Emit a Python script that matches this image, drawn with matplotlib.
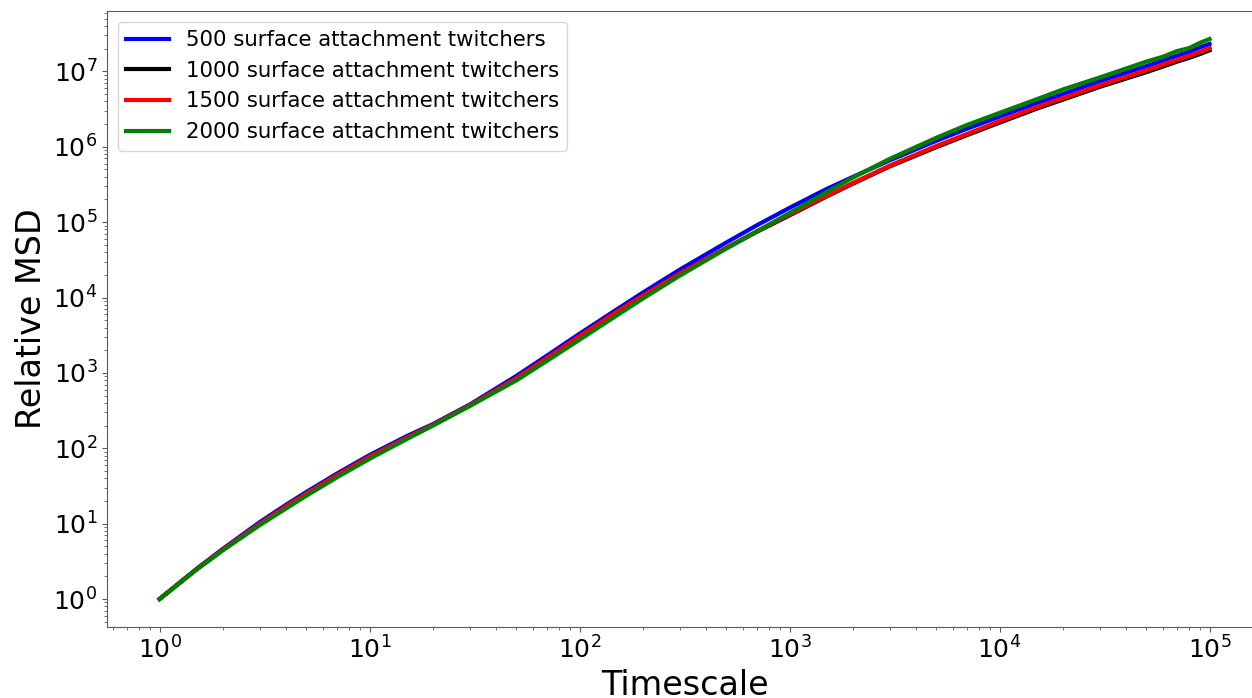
import numpy as np
import matplotlib
matplotlib.use('Agg')
import matplotlib.pyplot as plt

######Data (MSD stored as log10 values)
timescale = [1, 1.5, 2, 3, 4, 5, 7, 10, 15, 20, 30, 50, 70, 100, 150, 200, 300,
             500, 700, 1000, 1500, 2000, 3000, 5000, 7000, 10000, 15000, 20000,
             30000, 50000, 60000, 70000, 80000, 90000, 100000]

log_msd_500 = [0.0, 0.40, 0.665, 1.02, 1.25, 1.42, 1.665, 1.91, 2.16, 2.32, 2.58,
               2.96, 3.23, 3.52, 3.84, 4.065, 4.37, 4.73, 4.96, 5.19, 5.44, 5.60,
               5.82, 6.08, 6.24, 6.40, 6.58, 6.70, 6.87, 7.07, 7.145, 7.21, 7.26,
               7.32, 7.365]
log_msd_1000 = [0.0, 0.393, 0.652, 0.997, 1.227, 1.397, 1.642, 1.887, 2.137,
                2.307, 2.567, 2.927, 3.197, 3.487, 3.807, 4.022, 4.317, 4.655,
                4.873, 5.09, 5.34, 5.51, 5.74, 5.995, 6.155, 6.32, 6.505, 6.625,
                6.795, 6.99, 7.065, 7.13, 7.18, 7.23, 7.28]
log_msd_1500 = [0.0, 0.395, 0.655, 1.00, 1.23, 1.40, 1.645, 1.89, 2.14, 2.31,
                2.57, 2.93, 3.20, 3.49, 3.81, 4.025, 4.32, 4.66, 4.88, 5.10, 5.35,
                5.52, 5.75, 6.01, 6.17, 6.34, 6.525, 6.645, 6.815, 7.015, 7.09,
                7.155, 7.205, 7.26, 7.31]
log_msd_2000 = [0.0, 0.39, 0.645, 0.98, 1.20, 1.37, 1.615, 1.86, 2.12, 2.30, 2.56,
                2.90, 3.16, 3.44, 3.76, 3.985, 4.29, 4.65, 4.88, 5.12, 5.40, 5.59,
                5.84, 6.12, 6.29, 6.45, 6.63, 6.76, 6.92, 7.13, 7.195, 7.27, 7.31,
                7.38, 7.43]

labels = ['500 surface attachment twitchers', '1000 surface attachment twitchers',
          '1500 surface attachment twitchers', '2000 surface attachment twitchers']
colors = ['blue', 'black', 'red', 'green']

######Plot
fig = plt.figure(figsize=(12.52, 6.98), dpi=100)
# axes runs a little past the right edge, like the cropped original
ax = fig.add_axes([0.0855, 0.1017, 0.9225, 0.8825])

series = [log_msd_500, log_msd_1000, log_msd_1500, log_msd_2000]
for vals, lab, col in zip(series, labels, colors):
    ax.plot(timescale, np.power(10.0, vals), color=col, lw=3, label=lab)

ax.set_xscale('log')
ax.set_yscale('log')
ax.set_xlabel('Timescale', fontsize=24)
ax.set_ylabel('Relative MSD', fontsize=24)
ax.tick_params(axis='both', which='major', labelsize=18, color='0.35')
ax.tick_params(axis='both', which='minor', color='0.35')
for sp in ax.spines.values():
    sp.set_color('0.35')

ax.legend(loc='upper left', fontsize=15.3)

fig.savefig('out.png', dpi=100)
